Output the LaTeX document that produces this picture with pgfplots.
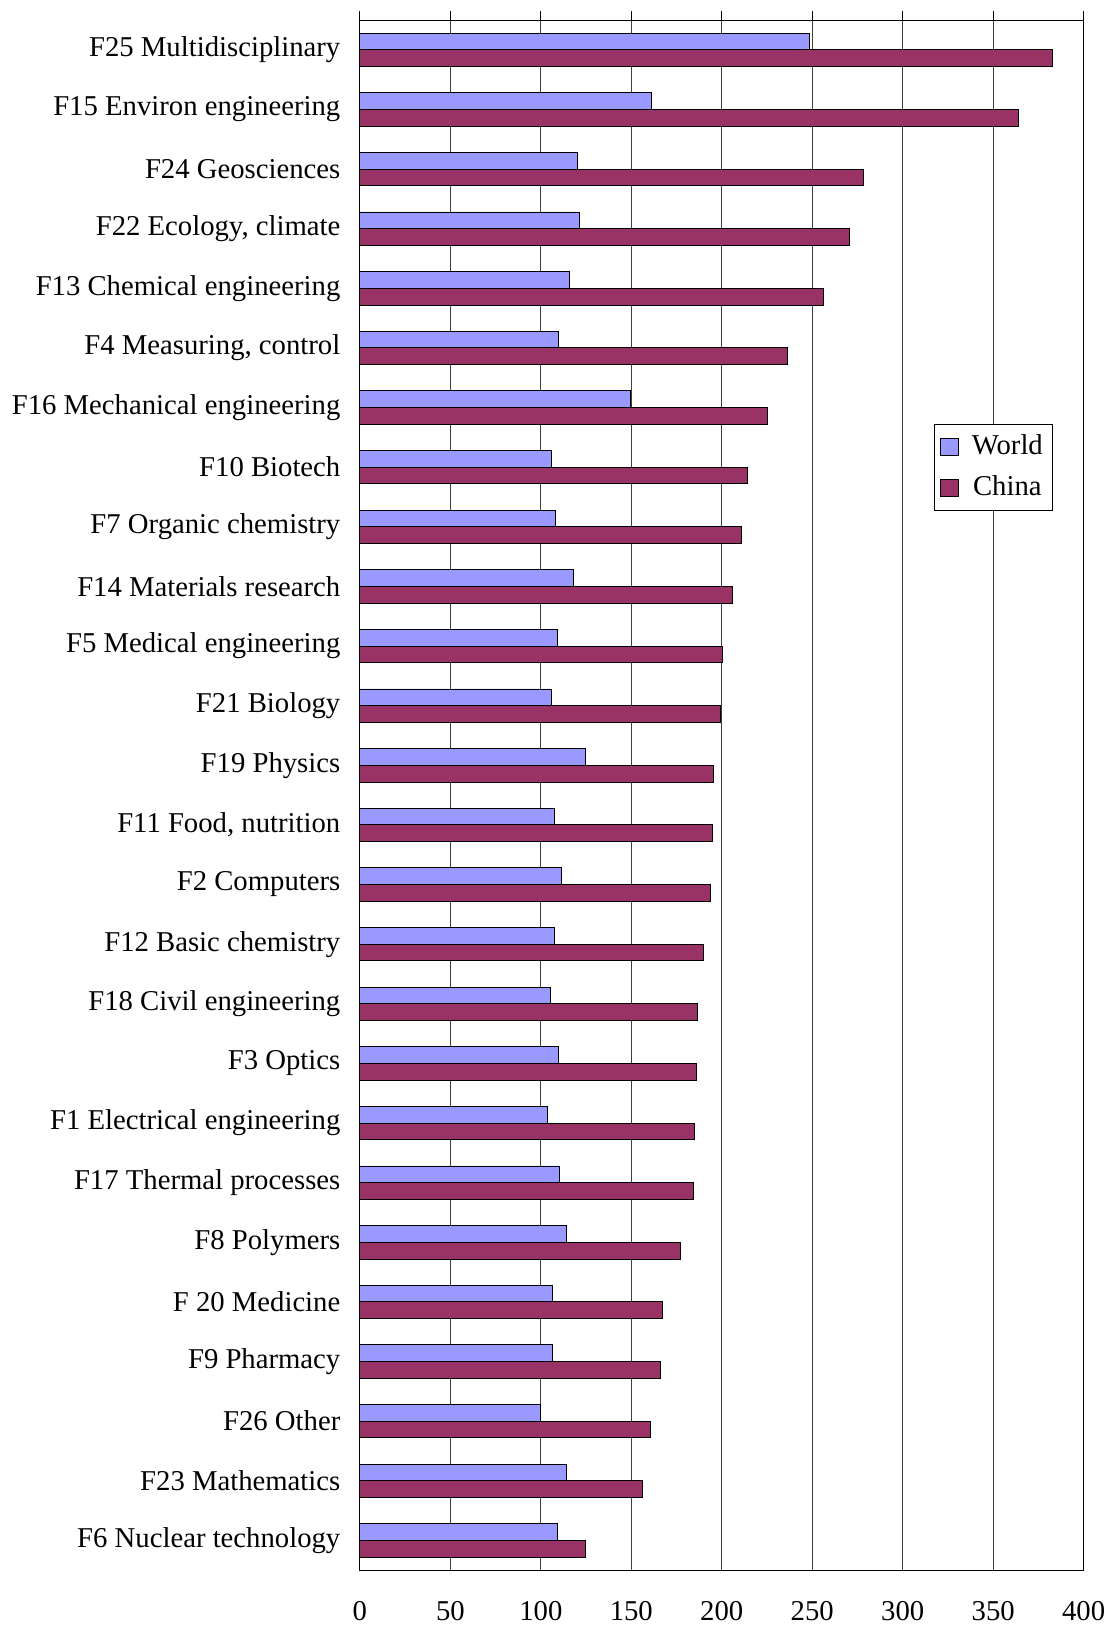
\documentclass[border=0pt]{standalone}
\usepackage{fontspec}
\setmainfont{Liberation Serif}
\usepackage{pgfplots}
\pgfplotsset{compat=1.18}
\definecolor{worldc}{HTML}{9999FF}
\definecolor{chinac}{HTML}{993366}

% values, top category first
\pgfplotstableread{
idx world china
0  248.7 382.8
1  161.0 363.9
2  120.3 278.5
3  121.5 270.5
4  115.8 256.2
5  109.5 236.1
6  149.6 225.2
7  106.0 214.3
8  108.3 210.9
9  118.0 205.7
10 108.9 200.6
11 106.0 199.4
12 124.4 195.4
13 107.7 194.8
14 111.2 193.7
15 107.7 189.7
16 105.4 186.8
17 109.5 185.7
18 103.7 185.1
19 110.0 184.5
20 114.0 177.1
21 106.6 167.3
22 106.6 166.2
23  99.7 160.5
24 114.0 155.9
25 108.9 124.4
}\fieldtab

\begin{document}
\fontsize{14.4}{17}\selectfont
\begin{tikzpicture}
\useasboundingbox (-180.5pt,-30pt) rectangle (376.5pt,787.5pt);
\begin{axis}[
  anchor=south west, at={(0pt,0pt)},
  scale only axis,
  width=363pt, height=777.5pt,
  xbar=0pt, bar width=8.35pt,
  xmin=0, xmax=400, ymin=-0.5, ymax=25.5,
  y dir=reverse,
  xtick={0,50,...,400},
  xtick pos=top, xticklabel pos=bottom,
  xticklabel style={yshift=-6.5pt},
  x tick style={black, thin},
  major tick length=4.3pt,
  tick align=outside,
  xmajorgrids, grid style={black!75, thin},
  ytick={0,...,25},
  yticklabels={F25 Multidisciplinary, F15 Environ engineering, F24 Geosciences,
    {F22 Ecology, climate}, F13 Chemical engineering, {F4 Measuring, control},
    F16 Mechanical engineering, F10 Biotech, F7 Organic chemistry,
    F14 Materials research, F5 Medical engineering, F21 Biology, F19 Physics,
    {F11 Food, nutrition}, F2 Computers, F12 Basic chemistry, F18 Civil engineering,
    F3 Optics, F1 Electrical engineering, F17 Thermal processes, F8 Polymers,
    F 20 Medicine, F9 Pharmacy, F26 Other, F23 Mathematics, F6 Nuclear technology},
  y tick style={draw=none},
  yticklabel style={xshift=-0.5pt},
  extra y ticks={-0.5,0.5,...,25.5},
  extra y tick labels={},
  extra y tick style={ytick pos=left, tick style={draw=black, thin}, grid=none},
  ticklabel style={font=\fontsize{14.4}{17}\selectfont},
  /pgf/number format/assume math mode=true,
  axis line style={black, thin},
  legend style={at={(0.7928,0.7392)}, anchor=north west, draw=black, thin,
    font=\fontsize{14.4}{17}\selectfont, inner xsep=3pt, inner ysep=3pt,
    row sep=4.5pt,
    /tikz/every odd column/.append style={column sep=4.7pt}},
  legend image code/.code={\draw[#1, draw=black] (0pt,-4.4pt) rectangle (8.8pt,4.4pt);},
  clip=false,
]
  \addplot[fill=worldc, draw=black, thin, bar shift=4.175pt] table[x=world, y=idx] {\fieldtab};
  \addplot[fill=chinac, draw=black, thin, bar shift=-4.175pt] table[x=china, y=idx] {\fieldtab};
  \legend{World, China}
\end{axis}
\end{tikzpicture}
\end{document}
